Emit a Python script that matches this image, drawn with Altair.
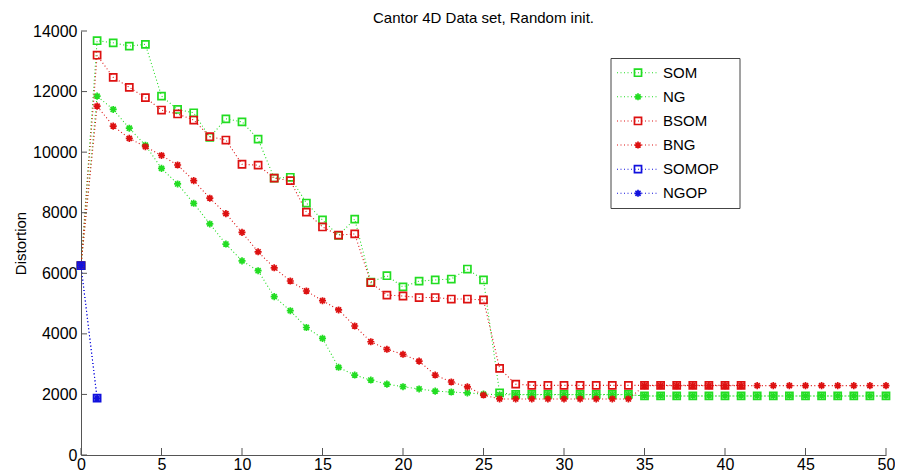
import altair as alt
import pandas as pd

# ---------------- data ----------------
names = ["SOM", "NG", "BSOM", "BNG", "SOMOP", "NGOP"]
colors = ["#22dd22", "#22dd22", "#dd1111", "#dd1111", "#1111dd", "#1111dd"]

x_main = list(range(0, 51))
som = [6250, 13680, 13610, 13500, 13560, 11850, 11410, 11300, 10490, 11100,
       11000, 10430, 9140, 9170, 8320, 7760, 7250, 7790, 5710, 5920,
       5550, 5740, 5780, 5810, 6140, 5780, 2050, 2000, 2000, 2000,
       2000, 2000, 2000, 2000, 2000, 1950, 1950, 1950, 1950, 1950,
       1950, 1950, 1950, 1950, 1950, 1950, 1950, 1950, 1950, 1950,
       1950]
ng = [6250, 11850, 11410, 10790, 10230, 9465, 8950, 8310, 7630, 6965,
      6410, 6085, 5230, 4765, 4210, 3850, 2895, 2640, 2475, 2340,
      2255, 2180, 2110, 2080, 2050, 2010, 1990, 1990, 1990, 1990,
      1990, 1990, 1990, 1990, 1990, 1950, 1950, 1950, 1950, 1950,
      1950, 1950, 1950, 1950, 1950, 1950, 1950, 1950, 1950, 1950,
      1950]
x_bsom = list(range(0, 42))
bsom = [6250, 13200, 12470, 12140, 11800, 11390, 11260, 11060, 10510, 10400,
        9600, 9570, 9140, 9060, 8020, 7530, 7260, 7300, 5690, 5280,
        5250, 5200, 5200, 5150, 5150, 5120, 2860, 2340, 2300, 2300,
        2300, 2300, 2300, 2300, 2300, 2300, 2300, 2300, 2300, 2300,
        2300, 2300]
bng = [6250, 11520, 10860, 10455, 10180, 9890, 9575, 9060, 8480, 7970,
       7350, 6710, 6180, 5745, 5415, 5095, 4790, 4260, 3740, 3490,
       3325, 3100, 2640, 2410, 2250, 1980, 1850, 1850, 1850, 1850,
       1850, 1850, 1850, 1850, 1850, 2290, 2290, 2290, 2290, 2290,
       2290, 2290, 2290, 2290, 2290, 2290, 2290, 2290, 2290, 2290,
       2290]
x_op = [0, 1]
somop = [6250, 1880]
ngop = [6250, 1880]

x_ticks = [0, 5, 10, 15, 20, 25, 30, 35, 40, 45, 50]
y_ticks = [0, 2000, 4000, 6000, 8000, 10000, 12000, 14000]

series_x = [x_main, x_main, x_bsom, x_main, x_op, x_op]
series_y = [som, ng, bsom, bng, somop, ngop]

# ---------------- styling ----------------
FONT = "Liberation Sans"
W, H = 805, 424
PAD_L, PAD_T, PAD_R, PAD_B = 73, 23, 9, 19
AST = "M-1,0L1,0M0,-1L0,1M-0.72,-0.72L0.72,0.72M-0.72,0.72L0.72,-0.72"
shapes = ["square", AST, "square", AST, "square", AST]
AXIS_COL = "#555555"

color_enc = alt.Color("series:N", scale=alt.Scale(domain=names, range=colors), legend=None)
shape_enc = alt.Shape("series:N", scale=alt.Scale(domain=names, range=shapes), legend=None)


def x_enc():
    return alt.X("x:Q", scale=alt.Scale(domain=[0, 50], nice=False, zero=False),
                 axis=alt.Axis(values=x_ticks, title=None, grid=False, ticks=False, tickSize=0,
                               labelPadding=1, labelFontSize=16, labelFont=FONT,
                               labelColor="black", domainColor=AXIS_COL, labelFlush=False,
                               labelBound=False, labelOverlap=False))


def y_enc():
    return alt.Y("y:Q", scale=alt.Scale(domain=[0, 14000], nice=False),
                 axis=alt.Axis(values=y_ticks, title="Distortion", grid=False, ticks=False,
                               tickSize=0, labelPadding=4, labelFontSize=16, labelFont=FONT,
                               labelColor="black", domainColor=AXIS_COL, labelFlush=False,
                               labelOverlap=False, format="d",
                               titleFont=FONT, titleFontSize=15, titleFontWeight="normal",
                               titleColor="black", titlePadding=4))


layers = []
for name, xs, ys in zip(names, series_x, series_y):
    d = pd.DataFrame({"x": xs, "y": ys, "series": name})
    base = alt.Chart(d)
    layers.append(base.mark_line(strokeDash=[1, 2.5], strokeWidth=1.1).encode(
        x=x_enc(), y=y_enc(), color=color_enc))
    layers.append(base.mark_point(filled=False, size=50, strokeWidth=1.7, opacity=1).encode(
        x=x_enc(), y=y_enc(), color=color_enc, shape=shape_enc))

# inward tick marks
xt = alt.Chart(pd.DataFrame({"x": x_ticks})).mark_rule(color=AXIS_COL, strokeWidth=1).encode(
    x=x_enc(), y=alt.value(H), y2=alt.value(H - 7))
yt = alt.Chart(pd.DataFrame({"y": y_ticks})).mark_rule(color=AXIS_COL, strokeWidth=1).encode(
    y=y_enc(), x=alt.value(0), x2=alt.value(6))
layers += [xt, yt]

main = alt.layer(*layers)

# ---------------- manual legend ----------------
leg_df = pd.DataFrame({"series": names, "row": list(range(len(names)))})
leg_y = alt.Y("row:Q", scale=alt.Scale(domain=[0, 5], range=[41.7, 162.3]), axis=None)
leg_box = alt.Chart(pd.DataFrame({"series": ["box"]})).mark_rect(
    fill="white", stroke="#444444", strokeWidth=1).encode(
    x=alt.value(530), x2=alt.value(659), y=alt.value(27.5), y2=alt.value(177.5))
leg_line = alt.Chart(leg_df).mark_rule(strokeDash=[1, 2.5], strokeWidth=1.1).encode(
    x=alt.value(536), x2=alt.value(578), y=leg_y, color=color_enc)
leg_pt = alt.Chart(leg_df).mark_point(filled=False, size=50, strokeWidth=1.7, opacity=1).encode(
    x=alt.value(557), y=leg_y, color=color_enc, shape=shape_enc)
leg_txt = alt.Chart(leg_df).mark_text(align="left", baseline="middle", fontSize=15,
                                      font=FONT, color="black").encode(
    x=alt.value(582), y=leg_y, text="series:N")
legend = alt.layer(leg_box, leg_line, leg_pt, leg_txt)

chart = alt.layer(main, legend).resolve_scale(y="independent").properties(
    width=W, height=H,
    background="white",
    title=alt.TitleParams("Cantor 4D Data set, Random init.", fontSize=15, fontWeight="normal",
                          font=FONT, color="black", anchor="middle", frame="group", offset=4,
                          dy=7),
    padding={"left": PAD_L, "top": PAD_T, "right": PAD_R, "bottom": PAD_B},
    autosize=alt.AutoSizeParams(type="none"),
).configure_view(stroke=None)

chart.save("out.html", embed_options={"renderer": "svg", "actions": False})
